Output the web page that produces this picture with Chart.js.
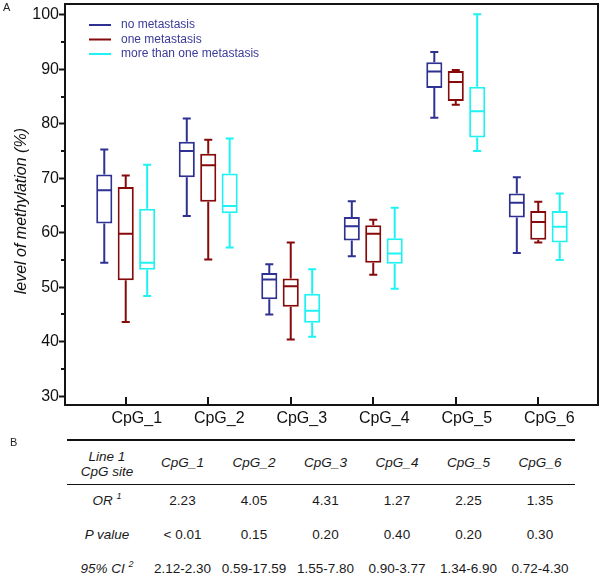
<!DOCTYPE html>
<html>
<head>
<meta charset="utf-8">
<script src="https://cdn.jsdelivr.net/npm/chart.js@4.4.0/dist/chart.umd.min.js"></script>
<style>
    body { margin: 0; background: #fff; font-family: Arial, "Liberation Sans", sans-serif; }
    #wrap { position: relative; width: 604px; height: 577px; overflow: hidden; }
    #chartBox { position: absolute; left: 0; top: 0; width: 604px; height: 440px; }
    #frame { position: absolute; left: 0; top: 0; width: 604px; height: 440px; pointer-events: none; }
    #frame div { position: absolute; box-sizing: border-box; }
    .panel { position: absolute; font-size: 11px; color: #222; }
    .cell { position: absolute; transform: translateX(-50%); white-space: nowrap; font-size: 13.5px; line-height: 16px; color: #1a1a1a; text-align: center; }
    .cell.it { font-style: italic; }
    .cell sup { font-size: 9px; vertical-align: 6px; line-height: 0; }
    .rule { position: absolute; left: 67px; width: 508px; background: #111; }
</style>
</head>
<body>
<div id="wrap">
    <div id="chartBox"><canvas id="boxChart"></canvas></div>
    <div id="frame"></div>
    <div class="panel" style="left:3px; top:1px;">A</div>
    <div class="panel" style="left:10px; top:436px;">B</div>
    <div id="table"></div>
</div>
<script>
// --- DATA ---
const categories = ['CpG_1', 'CpG_2', 'CpG_3', 'CpG_4', 'CpG_5', 'CpG_6'];
const seriesNames = ['no metastasis', 'one metastasis', 'more than one metastasis'];
const yTicks = [30, 40, 50, 60, 70, 80, 90, 100];
const yMinorTicks = [35, 45, 55, 65, 75, 85, 95];

// no metastasis
const noMetMax = [75.3, 81.0, 54.2, 65.8, 93.2, 70.2];
const noMetQ3  = [70.7, 76.7, 52.6, 62.9, 91.3, 67.2];
const noMetMed = [67.8, 75.0, 51.4, 61.2, 89.6, 65.5];
const noMetQ1  = [61.7, 70.2, 47.8, 58.6, 86.6, 62.8];
const noMetMin = [54.5, 63.1, 45.0, 55.7, 81.1, 56.3];

// one metastasis
const oneMetMax = [70.5, 77.1, 58.2, 62.4, 89.9, 65.7];
const oneMetQ3  = [68.4, 74.5, 51.6, 61.4, 89.7, 64.0];
const oneMetMed = [59.8, 72.4, 50.2, 59.8, 87.7, 62.0];
const oneMetQ1  = [51.3, 65.7, 46.4, 54.5, 84.2, 58.7];
const oneMetMin = [43.6, 55.1, 40.4, 52.3, 83.5, 58.2];

// more than one metastasis
const multiMetMax = [72.5, 77.3, 53.3, 64.6, 100.1, 67.2];
const multiMetQ3  = [64.4, 70.9, 48.8, 59.0, 86.8, 64.0];
const multiMetMed = [54.5, 64.9, 45.7, 56.2, 82.3, 61.1];
const multiMetQ1  = [53.2, 63.6, 43.5, 54.3, 77.5, 58.2];
const multiMetMin = [48.4, 57.3, 40.9, 49.7, 75.0, 55.0];

// table (panel B)
const orValues = ['2.23', '4.05', '4.31', '1.27', '2.25', '1.35'];
const pValues = ['< 0.01', '0.15', '0.20', '0.40', '0.20', '0.30'];
const ciValues = ['2.12-2.30', '0.59-17.59', '1.55-7.80', '0.90-3.77', '1.34-6.90', '0.72-4.30'];

const colors = ['#2e3192', '#860a0a', '#1ff2f2'];
const legendTextColor = '#3b3b98';
const axisColor = '#141414';

function boxDataset(name, color, q1, q3, med, lo, hi) {
    return {
        label: name,
        data: categories.map((c, i) => ({ x: i, y: [q1[i], q3[i]] })),
        median: med,
        whiskerLow: lo,
        whiskerHigh: hi,
        backgroundColor: '#ffffff',
        borderColor: color,
        borderWidth: 2,
        borderSkipped: false,
        categoryPercentage: 0.78,
        barPercentage: 0.75
    };
}

// --- PLUGINS ---
// medians + whiskers on top of the floating bars
const boxExtras = {
    id: 'boxExtras',
    afterDatasetsDraw(chart) {
        const ctx = chart.ctx;
        const yScale = chart.scales.y;
        chart.data.datasets.forEach((ds, di) => {
            const meta = chart.getDatasetMeta(di);
            ctx.save();
            ctx.strokeStyle = ds.borderColor;
            ctx.lineWidth = 2;
            meta.data.forEach((bar, i) => {
                const half = bar.width / 2;
                const cap = bar.width / 4;
                const yMed = yScale.getPixelForValue(ds.median[i]);
                const yQ1 = yScale.getPixelForValue(ds.data[i].y[0]);
                const yQ3 = yScale.getPixelForValue(ds.data[i].y[1]);
                const yLo = yScale.getPixelForValue(ds.whiskerLow[i]);
                const yHi = yScale.getPixelForValue(ds.whiskerHigh[i]);
                ctx.beginPath();
                ctx.moveTo(bar.x - half + 1, yMed);
                ctx.lineTo(bar.x + half - 1, yMed);
                // upper whisker
                ctx.moveTo(bar.x, yQ3);
                ctx.lineTo(bar.x, yHi);
                ctx.moveTo(bar.x - cap, yHi);
                ctx.lineTo(bar.x + cap, yHi);
                // lower whisker
                ctx.moveTo(bar.x, yQ1);
                ctx.lineTo(bar.x, yLo);
                ctx.moveTo(bar.x - cap, yLo);
                ctx.lineTo(bar.x + cap, yLo);
                ctx.stroke();
            });
            ctx.restore();
        });
    }
};

// legend inside the plot, top left
const insideLegend = {
    id: 'insideLegend',
    afterDraw(chart) {
        const ctx = chart.ctx;
        const a = chart.chartArea;
        ctx.save();
        ctx.font = '12px Arial, "Liberation Sans", sans-serif';
        ctx.textBaseline = 'middle';
        ctx.textAlign = 'left';
        seriesNames.forEach((name, i) => {
            const ly = a.top + 21 + i * 14.5;
            ctx.fillStyle = colors[i];
            ctx.fillRect(a.left + 24, ly - 1, 22, 2);
            ctx.fillStyle = legendTextColor;
            ctx.fillText(name, a.left + 56, ly);
        });
        ctx.restore();
    }
};

// --- CHART ---
const chart = new Chart(document.getElementById('boxChart'), {
    type: 'bar',
    data: {
        datasets: [
            boxDataset(seriesNames[0], colors[0], noMetQ1, noMetQ3, noMetMed, noMetMin, noMetMax),
            boxDataset(seriesNames[1], colors[1], oneMetQ1, oneMetQ3, oneMetMed, oneMetMin, oneMetMax),
            boxDataset(seriesNames[2], colors[2], multiMetQ1, multiMetQ3, multiMetMed, multiMetMin, multiMetMax)
        ]
    },
    options: {
        responsive: true,
        maintainAspectRatio: false,
        animation: false,
        events: [],
        layout: { padding: { top: 4, right: 6, left: 0, bottom: 0 } },
        plugins: { legend: { display: false }, tooltip: { enabled: false } },
        scales: {
            x: {
                type: 'linear',
                offset: false,
                min: -0.736,
                max: 5.724,
                afterBuildTicks: s => { s.ticks = categories.map((c, i) => ({ value: i })); },
                afterFit: s => { s.height = 35; s.paddingLeft = 0; s.paddingRight = 0; },
                grid: { display: false, offset: false },
                border: { display: false },
                ticks: {
                    callback: v => categories[v],
                    labelOffset: 11,
                    padding: -4,
                    maxRotation: 0,
                    autoSkip: false,
                    color: '#111',
                    font: { family: 'Arial, "Liberation Sans", sans-serif', size: 16 }
                }
            },
            y: {
                min: 28.38,
                max: 102.0,
                afterBuildTicks: s => { s.ticks = yTicks.map(v => ({ value: v })); },
                afterFit: s => { s.width = 65; s.paddingTop = 0; s.paddingBottom = 0; },
                grid: { drawOnChartArea: false, drawTicks: true, tickLength: 6, tickWidth: 2, tickColor: axisColor },
                border: { display: false },
                ticks: {
                    padding: 0,
                    color: '#111',
                    font: { family: 'Arial, "Liberation Sans", sans-serif', size: 16 }
                },
                title: {
                    display: true,
                    text: 'level of methylation (%)   ',
                    color: '#111',
                    padding: { top: 12, bottom: 0 },
                    font: { family: 'Arial, "Liberation Sans", sans-serif', size: 16, style: 'italic' }
                }
            }
        }
    },
    plugins: [boxExtras, insideLegend]
});

// --- FRAME + MINOR / INNER TICKS (overlay placed from the chart's own scales) ---
function renderFrame() {
    const a = chart.chartArea;
    const xScale = chart.scales.x;
    const yScale = chart.scales.y;
    let html = `<div style="left:${a.left - 1}px; top:${a.top - 1.5}px; width:${a.right - a.left + 2}px; height:${a.bottom - a.top + 2.5}px; border:2px solid ${axisColor}; border-top-width:2.5px;"></div>`;
    yMinorTicks.forEach(v => {
        const py = yScale.getPixelForValue(v);
        html += `<div style="left:${a.left - 4}px; top:${py - 1}px; width:4px; height:2px; background:${axisColor};"></div>`;
    });
    categories.forEach((c, i) => {
        const px = xScale.getPixelForValue(i);
        html += `<div style="left:${px - 1}px; top:${a.bottom - 8}px; width:2px; height:8px; background:${axisColor};"></div>`;
    });
    document.getElementById('frame').innerHTML = html;
}
renderFrame();

// --- TABLE (panel B) ---
function renderTable() {
    const el = document.getElementById('table');
    const labelX = 107;
    const colX = categories.map((c, i) => 182.5 + i * 71.5);
    let html = '';
    html += `<div class="rule" style="top:439px; height:2px;"></div>`;
    html += `<div class="rule" style="top:483.5px; height:1.5px;"></div>`;
    html += `<div class="cell it" style="left:${labelX}px; top:449px; line-height:15px;">Line 1<br>CpG site</div>`;
    categories.forEach((c, i) => {
        html += `<div class="cell it" style="left:${colX[i]}px; top:455px;">${c}</div>`;
    });
    const rows = [
        { label: 'OR <sup>1</sup>', vals: orValues, y: 501 },
        { label: 'P value', vals: pValues, y: 535 },
        { label: '95% CI <sup>2</sup>', vals: ciValues, y: 569 }
    ];
    rows.forEach(r => {
        html += `<div class="cell it" style="left:${labelX}px; top:${r.y - 8}px;">${r.label}</div>`;
        r.vals.forEach((v, i) => {
            html += `<div class="cell" style="left:${colX[i]}px; top:${r.y - 8}px;">${v}</div>`;
        });
    });
    el.innerHTML = html;
}
renderTable();
</script>
</body>
</html>
